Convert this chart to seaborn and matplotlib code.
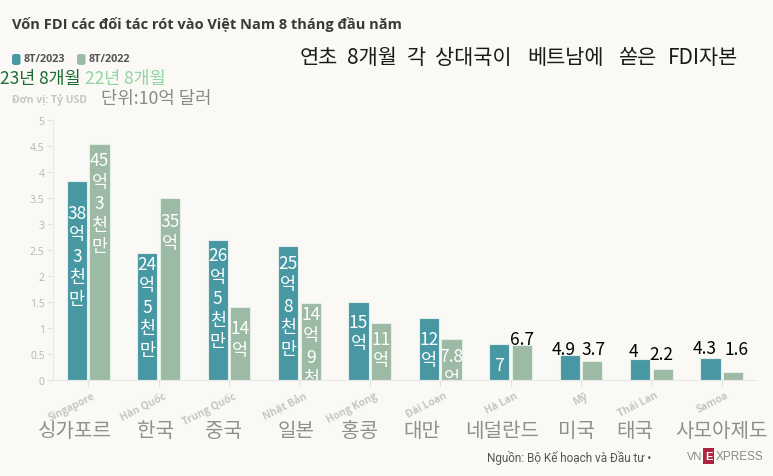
import re
import matplotlib
matplotlib.use("Agg")
import matplotlib.pyplot as plt
import matplotlib.transforms as mtransforms
from matplotlib.patches import FancyBboxPatch, Rectangle
import pandas as pd
import seaborn as sns

# ---------------- data ----------------
countries_vi = ["Singapore", "Hàn Quốc", "Trung Quốc", "Nhật Bản", "Hong Kong",
                "Đài Loan", "Hà Lan", "Mỹ", "Thái Lan", "Samoa"]
countries_kr = ["싱가포르", "한국", "중국", "일본", "홍콩",
                "대만", "네덜란드", "미국", "태국", "사모아제도"]
v2023 = [3.83, 2.45, 2.69, 2.58, 1.50, 1.20, 0.70, 0.49, 0.40, 0.43]
v2022 = [4.53, 3.50, 1.40, 1.49, 1.10, 0.78, 0.67, 0.37, 0.22, 0.16]
labels2023 = ["38억3천만", "24억5천만", "26억5천만", "25억8천만", "15억",
              "12억", "7", "4.9", "4", "4.3"]
labels2022 = ["45억3천만", "35억", "14억", "14억9천만", "11억",
              "7.8억", "6.7", "3.7", "2.2", "1.6"]
series = ["8T/2023", "8T/2022"]
yticks = [0, 0.5, 1, 1.5, 2, 2.5, 3, 3.5, 4, 4.5, 5]
kr_title_words = ["연초", "8개월", "각", "상대국이", "베트남에", "쏟은", "FDI자본"]

# ---------------- layout / style ----------------
W, H = 773, 477
BG = "#faf9f6"
TEAL = "#4798a3"
SAGE = "#9dbaa4"
KR = ["Noto Sans CJK KR", "DejaVu Sans"]
VI = ["Open Sans", "DejaVu Sans"]
inside2023 = [True, True, True, True, True, True, True, False, False, False]
inside2022 = [True, True, True, True, True, True, False, False, False, False]
# label offsets in px (inside: below bar top; outside: above bar top)
off2023 = [23, 2, 6, 8, 11, 12, 12, 1, 3, 5]
off2022 = [7, 14, 12, 2, 7, 8, 1, 7, 10, 18]
xoff2023 = [0, 0, 0, 0, 0, 0, 0, -6.5, -7, -6]
xoff2022 = [0, 0, 0, 0, 0, 0, 0, 1, -1.5, 3]
kr_label_x = [75, 156, 223, 296, 360, 422, 502, 577, 635, 721]
kr_title_x = [300, 347, 407, 435, 527, 619, 668]

df = pd.DataFrame({
    "country": countries_vi * 2,
    "value": v2023 + v2022,
    "year": [series[0]] * len(v2023) + [series[1]] * len(v2022),
})

sns.set_theme(style="white")
plt.rcParams["font.family"] = VI

fig = plt.figure(figsize=(W / 100, H / 100), dpi=100, facecolor=BG)


def fx(px):
    return px / W


def fy(py):
    return 1 - py / H


ax = fig.add_axes([fx(53), fy(381), fx(704), 260 / H])
ax.set_facecolor(BG)

sns.barplot(data=df, x="country", y="value", hue="year", order=countries_vi,
            hue_order=series, palette=[TEAL, SAGE], saturation=1,
            width=0.64, gap=0.1, edgecolor="#e4efe9", linewidth=0.8,
            legend=False, ax=ax)

ax.set_ylim(0, 5)
ax.set_xlim(-0.5, len(countries_vi) - 0.5)
ax.set_yticks(yticks)
ax.set_yticklabels([f"{t:g}" for t in yticks], fontsize=7.5, color="#b5b5b5")
ax.set_xlabel("")
ax.set_ylabel("")
ax.set_xticks(range(len(countries_vi)))
ax.set_xticklabels(countries_vi, rotation=27, ha="right", rotation_mode="anchor",
                   fontsize=7.4, fontweight="bold", color="#c6c6c6")
ax.tick_params(axis="y", length=4, color="#e3e3e3", width=0.8, pad=2, left=True)
ax.tick_params(axis="x", length=4, color="#e3e3e3", width=0.8, pad=3, bottom=True)
shift = mtransforms.ScaledTranslation(4 / 100, 0, fig.dpi_scale_trans)
for lab in ax.get_xticklabels():
    lab.set_transform(lab.get_transform() + shift)
for s in ["top", "right"]:
    ax.spines[s].set_visible(False)
for s in ["left", "bottom"]:
    ax.spines[s].set_color("#e8e8e8")
    ax.spines[s].set_linewidth(0.8)

LINE = 21.5


def tokens(s):
    return re.findall(r"[\d.]+|.", s)


def put_labels(container, labels, inside, offs, xoffs):
    for bar, lab, ins, off, xo in zip(container.patches, labels, inside, offs, xoffs):
        cx = bar.get_x() + bar.get_width() / 2
        top = bar.get_height()
        if ins:
            for i, tk in enumerate(tokens(lab)):
                dy = -(off + i * LINE) / 100
                tr = ax.transData + mtransforms.ScaledTranslation(xo / 100, dy, fig.dpi_scale_trans)
                t = ax.text(cx, top, tk, transform=tr, ha="center", va="top",
                            color="white", fontsize=12.5, family=KR)
                t.set_clip_path(bar)
                t.set_clip_on(True)
        else:
            tr = ax.transData + mtransforms.ScaledTranslation(xo / 100, off / 100, fig.dpi_scale_trans)
            ax.text(cx, top, lab, transform=tr, ha="center", va="baseline",
                    color="black", fontsize=12.5, family=KR)


put_labels(ax.containers[0], labels2023, inside2023, off2023, xoff2023)
put_labels(ax.containers[1], labels2022, inside2022, off2022, xoff2022)

# Korean category labels
for x, t in zip(kr_label_x, countries_kr):
    fig.text(fx(x), fy(432), t, ha="center", va="center", fontsize=14.5,
             color="#8f8f8f", family=KR)

# ---------------- header ----------------
fig.text(fx(12), fy(25), "Vốn FDI các đối tác rót vào Việt Nam 8 tháng đầu năm",
         ha="left", va="center", fontsize=10.5, fontweight="bold", color="#3a3a3a",
         family=VI)

for x0, col, lab in [(12, TEAL, series[0]), (77, SAGE, series[1])]:
    fig.patches.append(FancyBboxPatch((fx(x0), fy(66)), fx(8.5), 11 / H,
                                      boxstyle="round,pad=0,rounding_size=0.004",
                                      transform=fig.transFigure, facecolor=col,
                                      edgecolor="none"))
    fig.text(fx(x0 + 12), fy(60), lab, ha="left", va="center", fontsize=7.8,
             fontweight="bold", color="#555555", family=VI)

fig.text(fx(0), fy(79), "23년 8개월", ha="left", va="center", fontsize=12.5,
         color="#1d6b34", family=KR)
fig.text(fx(85), fy(79), "22년 8개월", ha="left", va="center", fontsize=12.5,
         color="#8fd6a0", family=KR)
fig.text(fx(12), fy(100), "Đơn vị: Tỷ USD", ha="left", va="center", fontsize=7.5,
         fontweight="bold", color="#c6c6c6", family=VI)
fig.text(fx(101), fy(99), "단위:10억 달러", ha="left", va="center", fontsize=12.8,
         color="#8a8a8a", family=KR)

for x, wd in zip(kr_title_x, kr_title_words):
    fig.text(fx(x), fy(58), wd, ha="left", va="center", fontsize=15,
             color="#1a1a1a", family=KR)

# ---------------- source ----------------
fig.text(fx(487), fy(458), "Nguồn: Bộ Kế hoạch và Đầu tư •", ha="left", va="center",
         fontsize=8.5, color="#555555",
         family=["Liberation Sans Narrow", "Roboto", "DejaVu Sans"])
fig.text(fx(687), fy(457), "VN", ha="left", va="center", fontsize=8,
         color="#8a8a8a", family=["Liberation Sans", "DejaVu Sans"])
fig.patches.append(Rectangle((fx(703), fy(465)), fx(11), 16 / H,
                             transform=fig.transFigure, facecolor="#b02440",
                             edgecolor="none"))
fig.text(fx(708.5), fy(457), "E", ha="center", va="center", fontsize=8,
         color="white", fontweight="bold", family=["Liberation Sans", "DejaVu Sans"])
fig.text(fx(716), fy(457), "XPRESS", ha="left", va="center", fontsize=8.5,
         color="#8a8a8a", family=["Liberation Sans", "DejaVu Sans"])

fig.savefig("out.png", dpi=100, facecolor=BG)
